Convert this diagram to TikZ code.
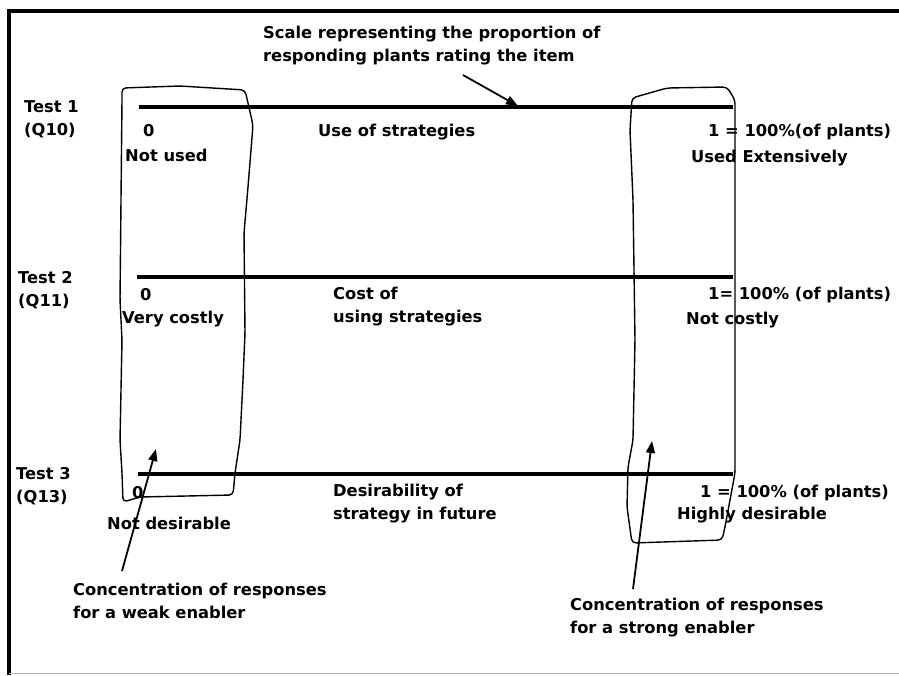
\documentclass[tikz,border=0pt]{standalone}
\usepackage{fontspec}
\setmainfont{DejaVu Sans}
\usetikzlibrary{arrows.meta}
\begin{document}
\begin{tikzpicture}[x=1pt,y=-1pt,
  lbl/.style={anchor=west,inner sep=0pt,font=\fontsize{16.3}{23}\selectfont\bfseries,align=left},
  scaleline/.style={line width=3.2pt},
  loop/.style={line width=1.4pt,rounded corners=4pt},
  pointer/.style={line width=1.8pt,-{Triangle[length=12pt,width=9pt]}}]
\useasboundingbox (0,0) rectangle (899,675);
% frame
\draw[line width=3.5pt] (9,675) -- (9,11) -- (899,11);
\draw[line width=0.6pt,gray!60] (9,673) -- (899,673);

% scales
\coordinate (s1a) at (139,107); \coordinate (s1b) at (733,107);
\coordinate (s2a) at (137,277); \coordinate (s2b) at (733,277);
\coordinate (s3a) at (138,474); \coordinate (s3b) at (733,474);
\draw[scaleline] (s1a) -- (s1b);
\draw[scaleline] (s2a) -- (s2b);
\draw[scaleline] (s3a) -- (s3b);

% scale caption
\node[lbl] (cap) at (263,46) {Scale representing the proportion of\\responding plants rating the item};
\coordinate (capend) at (463,75);
\coordinate (onscale) at (518,106);
\draw[pointer] (capend) -- (onscale);

% test labels
\node[lbl] (t1) at (24,119) {Test 1\\(Q10)};
\node[lbl] (t2) at (18,290) {Test 2\\(Q11)};
\node[lbl] (t3) at (16,486) {Test 3\\(Q13)};

% test 1
\node[lbl] (z1) at (143,131) {0};
\node[lbl] (n1) at (125,155) {Not used};
\node[lbl] (m1) at (318,132) {Use of strategies};
\node[lbl] (o1) at (708,132) {1 = 100\%(of plants)};
\node[lbl] (h1) at (691,158) {Used Extensively};

% test 2
\node[lbl] (z2) at (140,295) {0};
\node[lbl] (n2) at (122,319) {Very costly};
\node[lbl] (m2) at (333,307) {Cost of\\using strategies};
\node[lbl] (o2) at (708,295) {1= 100\% (of plants)};
\node[lbl] (h2) at (686,320) {Not costly};

% test 3
\node[lbl] (z3) at (132,493) {0};
\node[lbl] (n3) at (107,523) {Not desirable};
\node[lbl] (m3) at (333,504) {Desirability of\\strategy in future};
\node[lbl] (o3) at (700,493) {1 = 100\% (of plants)};
\node[lbl] (h3) at (677,515) {Highly desirable};

% hand-drawn enclosures
\draw[loop] (122,88) -- (180,86) -- (245,90) -- (253,125) -- (248,187) -- (244,233)
  -- (245,333) -- (243,380) -- (240,440) -- (235,473) -- (233,495) -- (140,497)
  -- (123,502) -- (122,473) -- (120,440) -- (122,340) -- (120,300) -- (122,100) -- cycle;
\draw[loop] (632,98) -- (667,88) -- (727,87) -- (735,100) -- (735,200) -- (735,440)
  -- (735,473) -- (730,500) -- (725,527) -- (722,540) -- (632,543) -- (627,507)
  -- (628,467) -- (633,440) -- (635,340) -- (633,200) -- (630,130) -- cycle;

% enabler notes
\node[lbl] (weak) at (73,601) {Concentration of responses\\for a weak enabler};
\node[lbl] (strong) at (570,618) {Concentration of responses\\for a strong enabler};
\coordinate (wk) at (122,571);
\coordinate (wktip) at (156,449);
\coordinate (st) at (633,589);
\coordinate (sttip) at (652,441);
\draw[pointer] (wk) -- (wktip);
\draw[pointer] (st) -- (sttip);
\end{tikzpicture}
\end{document}
